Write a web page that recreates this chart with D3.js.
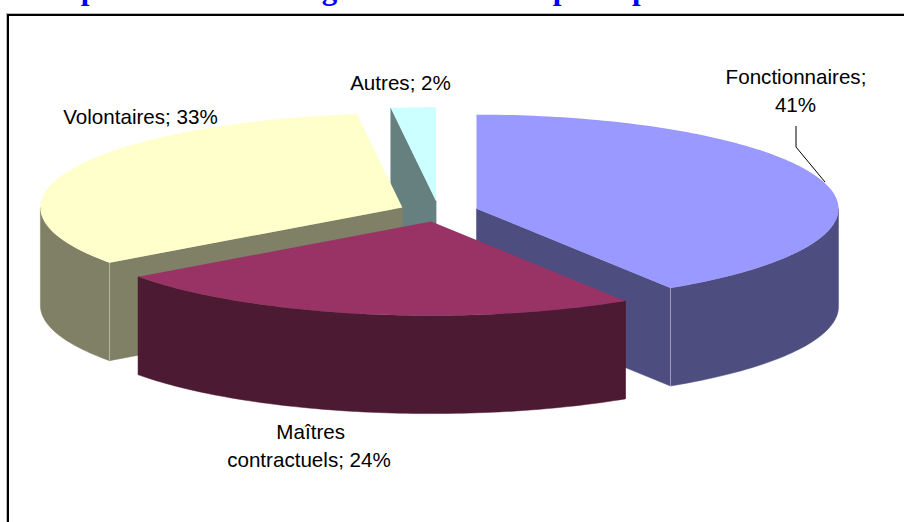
<!DOCTYPE html>
<html><head><meta charset="utf-8">
<script src="https://cdn.jsdelivr.net/npm/d3@7"></script>
<style>html,body{margin:0;padding:0;background:#fff}svg{display:block}</style>
</head><body><svg id="c" width="904" height="522"></svg>
<script>
const categories = ["Fonctionnaires", "Maîtres contractuels", "Volontaires", "Autres"];
const values = [41, 24, 33, 2];
const topColors = ["#9999FF", "#993366", "#FFFFCC", "#CCFFFF"];
const sideColors = ["#4D4D80", "#4D1A33", "#808066", "#668080"];
const edgeColors = ["#9D9DC4", "#4D1A33", "#B8B8A0", "#668080"];
const drawOrder = [3, 2, 0, 1];
const titleText = "Répartition des enseignants selon leur principal statut";

const W = 904, H = 522;
const cx = 438.6, cy = 211.5, rx = 362, ry = 94, depth = 98, explode = 0.109;
const svg = d3.select("#c");
svg.append("text").attr("x", 44.5).attr("y", -1.5)
  .attr("font-family", "Liberation Serif").attr("font-weight", "bold")
  .attr("font-size", 31).attr("fill", "#0000FF").text(titleText);

svg.append("rect").attr("x", 6.5).attr("y", 13.5).attr("width", 920).attr("height", 540)
  .attr("fill", "none").attr("stroke", "#BBBBBB").attr("stroke-width", 1);
svg.append("rect").attr("x", 8).attr("y", 15).attr("width", 920).attr("height", 540)
  .attr("fill", "#fff").attr("stroke", "#000").attr("stroke-width", 2);

const arcs = d3.pie().sort(null).value(d => d)(values);
const P = (a, ox, oy, r = 1, dz = 0) => [ox + rx * r * Math.sin(a), oy - ry * r * Math.cos(a) + dz];
const line = d3.line();
function arcPts(a0, a1, ox, oy, dz) {
  const n = Math.max(2, Math.ceil((a1 - a0) / 0.02));
  return d3.range(n + 1).map(i => P(a0 + (a1 - a0) * i / n, ox, oy, 1, dz));
}
const g = svg.append("g");
drawOrder.forEach(i => {
  const d = arcs[i];
  const mid = (d.startAngle + d.endAngle) / 2;
  const [ox, oy] = P(mid, cx, cy, explode);
  const apex = [ox, oy], apexB = [ox, oy + depth];
  const side = sideColors[i];
  const poly = pts => g.append("path").attr("d", line(pts) + "Z").attr("fill", side).attr("stroke", side).attr("stroke-width", 0.5);
  if (Math.sin(d.startAngle) < -1e-6) {
    poly([apex, P(d.startAngle, ox, oy), P(d.startAngle, ox, oy, 1, depth), apexB]);
  }
  if (Math.sin(d.endAngle) > 1e-6) {
    poly([apex, P(d.endAngle, ox, oy), P(d.endAngle, ox, oy, 1, depth), apexB]);
  }
  const a0 = Math.max(d.startAngle, Math.PI / 2), a1 = Math.min(d.endAngle, 3 * Math.PI / 2);
  if (a1 > a0) {
    poly(arcPts(a0, a1, ox, oy, 0).concat(arcPts(a0, a1, ox, oy, depth).reverse()));
  }
  [d.startAngle, d.endAngle].forEach(a => {
    if (a > Math.PI / 2 + 1e-6 && a < 3 * Math.PI / 2 - 1e-6) {
      g.append("line").attr("x1", P(a, ox, oy)[0]).attr("y1", P(a, ox, oy)[1])
        .attr("x2", P(a, ox, oy)[0]).attr("y2", P(a, ox, oy, 1, depth)[1])
        .attr("stroke", edgeColors[i]).attr("stroke-width", 1);
    }
  });
  g.append("path").attr("d", line([apex].concat(arcPts(d.startAngle, d.endAngle, ox, oy, 0))) + "Z")
    .attr("fill", topColors[i]);
});

svg.append("path").attr("d", line([[796, 126], [796, 147], [825, 182]]))
  .attr("fill", "none").attr("stroke", "#000").attr("stroke-width", 1);

const labelLines = [
  [`${categories[0]};`, 796, 84],
  [`${values[0]}%`, 795.5, 112],
  [`${categories[3]}; ${values[3]}%`, 400.5, 90],
  [`${categories[2]}; ${values[2]}%`, 140.5, 124],
  ["Maîtres", 310.7, 439],
  [`contractuels; ${values[1]}%`, 309, 467]
];
labelLines.forEach(([t, x, y]) => svg.append("text").attr("x", x).attr("y", y)
  .attr("text-anchor", "middle").attr("font-family", "Liberation Sans")
  .attr("font-size", 20.6).attr("fill", "#000").text(t));
</script></body></html>
